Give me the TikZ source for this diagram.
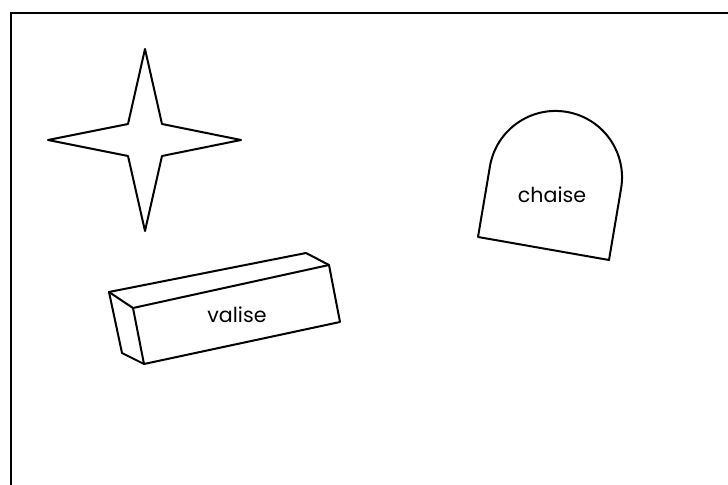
\documentclass[tikz,border=0pt]{standalone}
\usepackage{fontspec}
\setmainfont{Poppins}
\usepackage{tikz}

\begin{document}
\begin{tikzpicture}[
  x=0.5pt, y=-0.5pt,
  outline/.style={draw, line width=1pt, line join=round},
  objtext/.style={font=\fontsize{10.3}{12}\selectfont, inner sep=0pt}
]
\useasboundingbox (0,0) rectangle (728,485);
\draw[line width=1pt] (11,485) -- (11,13.5) -- (728,13.5);

% star
\draw[outline] (145,49) -- (162,124) -- (241,140) -- (162,156) -- (145,231)
  -- (128,156) -- (48,140) -- (128,124) -- cycle;

% chaise
\draw[outline] (478,237) -- (609,260) -- (621,189)
  arc[start angle=10, end angle=-170, radius=66.5] -- cycle;
\node[objtext] (chaise) at (552,195) {chaise};

% valise
\draw[outline] (109,292) -- (306,253) -- (329,265) -- (340,322) -- (144,364)
  -- (122,353) -- cycle;
\draw[outline] (109,292) -- (133,308) -- (329,265);
\draw[outline] (133,308) -- (144,364);
\node[objtext] (valise) at (237,315) {valise};
\end{tikzpicture}
\end{document}
